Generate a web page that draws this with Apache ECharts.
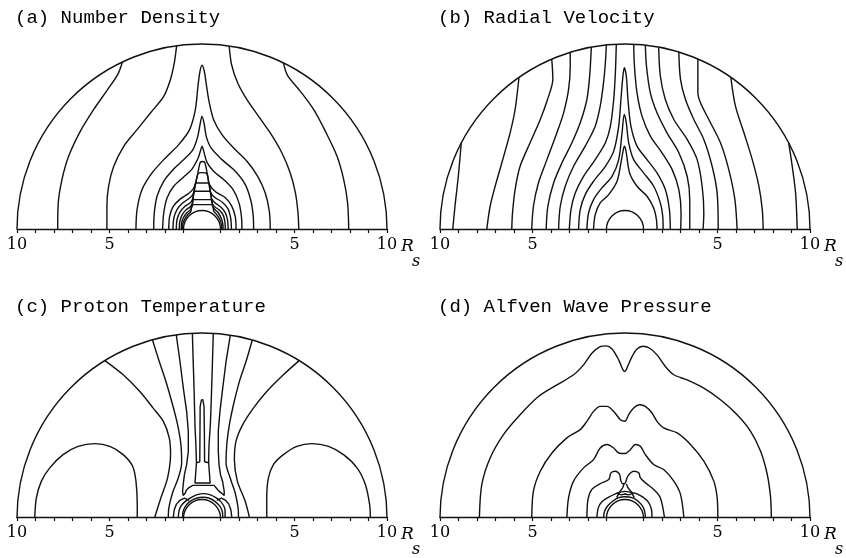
<!DOCTYPE html>
<html>
<head>
<meta charset="utf-8">
<script src="https://cdn.jsdelivr.net/npm/echarts@6.0.0/dist/echarts.min.js"></script>
<style>
html, body { margin: 0; padding: 0; background: #fff; }
#chart { width: 846px; height: 558px; }
</style>
</head>
<body>
<div id="chart"></div>
<script>
// panel titles and axis ticks (units of solar radius)
var titles = ['(a) Number Density', '(b) Radial Velocity', '(c) Proton Temperature', '(d) Alfven Wave Pressure'];
var tickValues = [-10, -9, -8, -7, -6, -5, -4, -3, -2, -1, 1, 2, 3, 4, 5, 6, 7, 8, 9, 10];
var labelValues = [-10, -5, 5, 10];

// (a) number density contours, [x, y] in R_s
var densityLines = [
	[[-7.80,0],[-7.77,1.41],[-7.57,2.67],[-7.21,3.93],[-6.58,5.28],[-5.86,6.45],[-5.17,7.44],[-4.56,8.34],[-4.30,9.03]],
	[[7.93,0],[7.87,1.41],[7.66,2.67],[7.30,3.93],[6.67,5.28],[6.04,6.45],[5.32,7.44],[4.63,8.29],[4.40,8.98]],
	[[-5.14,0],[-5.14,1.23],[-5.05,2.31],[-4.77,3.39],[-4.23,4.47],[-3.51,5.37],[-2.79,6.27],[-2.07,7.17],[-1.71,8.07],[-1.50,8.97],[-1.37,9.91]],
	[[5.23,0],[5.19,0.86],[5.05,1.95],[4.77,3.03],[4.32,4.11],[3.69,5.19],[3.06,6.09],[2.43,6.99],[1.93,7.89],[1.60,8.88],[1.47,9.89]],
	[[-3.57,0],[-3.51,1.05],[-3.24,2.13],[-2.70,3.03],[-1.98,3.84],[-1.26,4.56],[-0.67,5.37],[-0.36,6.45],[-0.22,7.71],[-0.11,8.52],[0,8.85],[0.13,8.5],[0.25,7.7],[0.38,6.9],[0.63,5.91],[1.08,5.10],[1.71,4.38],[2.43,3.66],[3.01,2.85],[3.42,1.95],[3.64,0.95],[3.69,0]],
	[[-2.61,0],[-2.58,0.86],[-2.43,1.77],[-2.07,2.58],[-1.53,3.24],[-0.95,3.78],[-0.49,4.29],[-0.23,5.01],[-0.09,5.73],[0,6.09],[0.11,5.73],[0.23,5.01],[0.49,4.38],[1.08,3.75],[1.80,3.12],[2.34,2.40],[2.65,1.50],[2.77,0.68],[2.79,0]],
	[[-2.13,0],[-2.07,0.86],[-1.89,1.68],[-1.53,2.31],[-0.99,2.81],[-0.54,3.24],[-0.23,3.78],[-0.09,4.20],[0,4.47],[0.11,4.14],[0.27,3.60],[0.63,3.12],[1.17,2.67],[1.68,2.13],[2.00,1.41],[2.13,0.68],[2.16,0]],
	[[-1.8,0],[-1.75,0.68],[-1.57,1.2],[-1.2,1.6],[-0.75,1.9],[-0.45,2.2],[-0.25,2.9],[-0.1,3.6],[0.02,3.65],[0.15,3.6],[0.3,2.9],[0.4,2.4],[0.75,2.0],[1.25,1.7],[1.6,1.25],[1.8,0.65],[1.84,0]],
	[[-1.57,0],[-1.52,0.6],[-1.35,1.05],[-1.05,1.4],[-0.7,1.65],[-0.5,1.85],[-0.35,2.4],[-0.21,3.0],[0,3.05],[0.26,3.0],[0.38,2.4],[0.48,1.95],[0.7,1.7],[1.1,1.45],[1.4,1.1],[1.55,0.6],[1.59,0]],
	[[-1.39,0],[-1.35,0.5],[-1.2,0.9],[-0.95,1.2],[-0.65,1.4],[-0.52,1.6],[-0.42,2.0],[-0.31,2.49],[0.35,2.49],[0.45,2.0],[0.52,1.65],[0.7,1.42],[1.0,1.2],[1.25,0.9],[1.38,0.5],[1.41,0]],
	[[-1.23,0],[-1.2,0.4],[-1.08,0.75],[-0.88,1.02],[-0.62,1.22],[-0.5,1.45],[-0.39,2.04],[0.43,2.04],[0.52,1.5],[0.62,1.25],[0.9,1.05],[1.12,0.8],[1.23,0.45],[1.26,0]],
	[[-1.12,0],[-1.1,0.35],[-1.0,0.62],[-0.82,0.88],[-0.62,1.05],[-0.52,1.25],[-0.48,1.59],[0.52,1.59],[0.57,1.25],[0.68,1.07],[0.9,0.85],[1.05,0.55],[1.13,0.25],[1.14,0]],
	[[-1.05,0],[-1.03,0.3],[-0.93,0.55],[-0.75,0.8],[-0.6,0.95],[-0.55,1.32],[0.57,1.32],[0.63,0.97],[0.8,0.78],[0.97,0.5],[1.06,0.2],[1.07,0]]
];

// (b) radial velocity contours
var velocityLines = [
	[[-9.31,0],[-9.19,1.23],[-9.01,2.85],[-8.85,4.66]],
	[[-7.47,0],[-7.29,1.23],[-7.02,2.31],[-6.66,3.57],[-6.21,5.20],[-5.94,6.46],[-5.73,8.20]],
	[[-6.12,0],[-6.08,0.87],[-5.94,2.13],[-5.67,3.39],[-5.13,4.66],[-4.58,5.92],[-4.19,7.00],[-3.90,8.09],[-3.96,9.18]],
	[[-5.04,0],[-4.95,1.23],[-4.68,2.49],[-4.22,3.75],[-3.68,5.20],[-3.32,6.28],[-3.05,7.55],[-2.96,8.81],[-2.96,9.55]],
	[[-4.26,0],[-4.17,1.23],[-3.86,2.49],[-3.41,3.57],[-2.87,4.66],[-2.42,5.74],[-2.06,7.00],[-1.91,8.27],[-1.82,9.83]],
	[[-3.59,0],[-3.50,1.23],[-3.23,2.31],[-2.78,3.39],[-2.15,4.48],[-1.61,5.56],[-1.34,6.64],[-1.16,7.91],[-1.06,8.99],[-1.01,9.95]],
	[[-3.01,0],[-2.92,1.05],[-2.69,1.95],[-2.24,2.85],[-1.61,3.75],[-1.06,4.66],[-0.79,5.56],[-0.61,7.00],[-0.52,8.45],[-0.47,9.99]],
	[[-2.51,0],[-2.42,1.05],[-2.15,1.86],[-1.70,2.58],[-1.06,3.39],[-0.61,4.21],[-0.34,5.56],[-0.22,7.00],[-0.13,8.09],[-0.04,8.72],[0.07,8.27],[0.16,7.00],[0.32,5.56],[0.65,4.48],[1.19,3.75],[1.73,3.03],[2.18,2.13],[2.40,1.05],[2.45,0]],
	[[-2.06,0],[-1.97,0.87],[-1.70,1.59],[-1.25,2.22],[-0.70,2.85],[-0.34,3.75],[-0.16,5.20],[-0.04,6.19],[0.07,5.74],[0.20,4.66],[0.47,3.75],[1.01,3.03],[1.55,2.31],[1.91,1.41],[2.04,0.69],[2.06,0]],
	[[-1.70,0],[-1.61,0.78],[-1.34,1.41],[-0.88,1.86],[-0.43,2.58],[-0.22,3.57],[-0.07,4.39],[-0.02,4.48],[0.07,4.12],[0.25,3.03],[0.65,2.31],[1.19,1.77],[1.55,1.14],[1.70,0.51],[1.73,0]],
	[[3.01,0],[3.03,0.87],[2.91,2.13],[2.55,3.21],[2.00,4.12],[1.37,5.02],[0.92,6.10],[0.65,7.36],[0.51,8.81],[0.47,9.99]],
	[[3.50,0],[3.50,1.59],[3.36,2.85],[2.91,4.12],[2.27,5.20],[1.73,6.28],[1.37,7.36],[1.16,8.81],[1.10,9.94]],
	[[4.22,0],[4.26,0.87],[4.17,2.31],[3.90,3.75],[3.36,4.84],[2.64,5.92],[2.18,7.00],[1.91,8.27],[1.82,9.83]],
	[[5.04,0],[4.98,1.95],[4.71,3.39],[4.26,4.84],[3.72,5.92],[3.27,7.00],[3.00,8.09],[2.91,9.56]],
	[[6.06,0],[5.94,1.59],[5.61,3.21],[5.16,4.66],[4.53,5.92],[4.08,6.82],[3.94,7.36],[3.94,9.19]],
	[[7.47,0],[7.42,1.05],[7.24,2.31],[6.88,3.75],[6.43,5.20],[5.97,6.64],[5.72,8.20]],
	[[9.31,0],[9.22,1.95],[9.04,3.39],[8.85,4.66]]
];

// (c) proton temperature contours
var temperatureLines = [
	[[-9.04,0],[-8.95,1.05],[-8.68,1.95],[-8.23,2.67],[-7.51,3.39],[-6.70,3.84],[-5.79,3.99],[-4.98,3.84],[-4.26,3.39],[-3.75,2.76],[-3.57,1.95],[-3.50,0.69],[-3.50,0]],
	[[3.50,0],[3.50,1.05],[3.59,2.13],[3.86,2.85],[4.40,3.39],[5.13,3.84],[5.94,3.99],[6.84,3.84],[7.65,3.39],[8.38,2.67],[8.83,1.77],[9.06,0.69],[9.10,0]],
	[[-5.25,8.5],[-4.26,7.73],[-3.36,6.82],[-2.64,5.92],[-2.09,5.20],[-1.77,4.30],[-1.70,3.39],[-1.86,2.13],[-2.22,1.05],[-2.55,0]],
	[[5.25,8.5],[4.40,7.73],[3.50,6.82],[2.78,5.92],[2.20,5.02],[1.84,4.12],[1.75,3.12],[1.91,1.95],[2.33,0.87],[2.56,0]],
	[[-2.68,9.63],[-2.31,8.45],[-1.95,7.36],[-1.59,6.10],[-1.32,5.02],[-1.14,3.94],[-1.10,2.94],[-1.28,2.13],[-1.59,1.32],[-1.79,0.51],[-1.82,0]],
	[[2.72,9.62],[2.38,8.45],[2.02,7.36],[1.70,6.10],[1.48,5.02],[1.34,3.94],[1.30,2.94],[1.52,2.13],[1.79,1.32],[1.95,0.51],[1.97,0]],
	[[-0.52,9.98],[-0.47,8.27],[-0.42,6.64],[-0.38,5.0],[-0.33,3.9],[-0.3,2.95]],
	[[0.36,2.95],[0.38,3.9],[0.45,5.0],[0.51,6.64],[0.56,8.27],[0.61,9.98]],
	[[-1.05,0],[-1.02,0.3],[-0.9,0.58],[-0.65,0.85],[-0.3,1.02],[0.05,1.07],[0.4,1.02],[0.7,0.85],[0.95,0.6],[1.1,0.3],[1.12,0]],
	[[-1.28,0],[-1.24,0.35],[-1.12,0.62],[-0.9,0.85],[-0.6,1.05],[-0.3,1.2],[0.1,1.27],[0.45,1.2],[0.75,1.05],[1.0,0.85],[1.18,0.6],[1.25,0.3],[1.25,0]]
];
var temperatureSharp = [
	[[-1.39,9.9],[-1.19,8.45],[-1.01,7.0],[-0.83,5.74],[-0.74,4.66],[-0.74,3.57],[-0.83,2.85],[-0.95,2.3],[-1.0,1.9],[-1.05,1.4],[-1.02,1.17],[-0.9,1.3],[-0.85,1.45],[-0.75,1.42],[-0.7,1.6],[-0.6,1.58],[-0.5,1.72],[0.65,1.72],[0.75,1.6],[0.85,1.62],[0.9,1.42],[1.0,1.45],[1.05,1.3],[1.2,1.17],[1.2,1.4],[1.12,1.9],[1.0,2.3],[0.92,2.85],[0.88,3.57],[0.88,4.66],[0.97,5.74],[1.12,7.0],[1.30,8.45],[1.53,9.88]],
	[[-0.03,6.37],[-0.1,6.0],[-0.11,4.5],[-0.12,3.0],[-0.3,2.95],[-0.38,1.85],[0.44,1.85],[0.36,2.95],[0.14,3.0],[0.13,4.5],[0.11,6.0],[0.05,6.37],[-0.03,6.37]],
	[[-1.55,0],[-1.5,0.4],[-1.38,0.7],[-1.2,0.9],[-0.95,1.02],[-0.7,0.9]],
	[[1.61,0],[1.56,0.4],[1.45,0.7],[1.28,0.9],[1.05,1.02],[0.8,0.9]]
];

// (d) Alfven wave pressure contours
var alfvenLines = [
	[[-7.87,0],[-7.74,1.77],[-7.29,3.21],[-6.57,4.48],[-5.67,5.56],[-4.68,6.55],[-3.68,7.18],[-2.78,7.73],[-2.24,8.27],[-1.79,8.90],[-1.34,9.26],[-1.01,9.30],[-0.70,9.13],[-0.34,8.54],[-0.11,8.00],[0,7.91],[0.14,8.18],[0.38,8.72],[0.65,9.13],[0.97,9.28],[1.34,9.17],[1.73,8.81],[2.18,8.18],[2.64,7.73],[3.36,7.45],[4.26,7.00],[5.16,6.37],[6.06,5.56],[6.79,4.66],[7.33,3.57],[7.69,2.31],[7.87,1.05],[7.91,0]],
	[[-5.04,0],[-4.95,1.41],[-4.58,2.49],[-3.95,3.48],[-3.14,4.30],[-2.42,4.75],[-2.06,5.20],[-1.70,5.74],[-1.34,6.01],[-0.97,6.01],[-0.61,5.74],[-0.25,5.29],[0,5.20],[0.20,5.56],[0.47,5.92],[0.79,6.10],[1.10,6.01],[1.46,5.65],[1.73,5.20],[2.09,4.84],[2.82,4.57],[3.54,3.94],[4.26,3.03],[4.80,1.95],[4.98,1.05],[5.02,0]],
	[[-3.14,0],[-3.05,1.05],[-2.78,1.95],[-2.24,2.67],[-1.70,3.12],[-1.34,3.75],[-0.97,3.94],[-0.61,3.75],[-0.34,3.48],[0,3.45],[0.29,3.66],[0.56,3.94],[0.83,3.84],[1.10,3.39],[1.55,2.85],[2.09,2.58],[2.64,1.95],[3.00,1.23],[3.18,0]],
	[[-2.06,0],[-2.00,0.96],[-1.79,1.50],[-1.34,1.81],[-0.88,2.04],[-0.76,2.40],[-0.52,2.49],[-0.29,2.31],[-0.22,1.95],[-0.11,1.81],[0.02,1.86],[0.11,2.13],[0.25,2.35],[0.47,2.49],[0.74,2.40],[0.83,2.13],[1.10,1.86],[1.55,1.50],[1.91,1.05],[2.13,0]],
	[[-1.52,0],[-1.44,0.51],[-1.25,0.83],[-0.88,1.08],[-0.52,1.26],[-0.25,1.35],[0,1.39],[0.29,1.35],[0.65,1.26],[1.01,1.05],[1.28,0.78],[1.43,0.42],[1.46,0]],
	[[-1.16,0],[-1.10,0.32],[-0.94,0.60],[-0.65,0.87],[-0.34,1.05],[0,1.10],[0.38,1.05],[0.69,0.87],[0.94,0.60],[1.06,0.32],[1.10,0]]
];
var alfvenSharp = [
	[[-0.45,1.05],[-0.3,1.35],[-0.12,1.6],[-0.05,1.8]],
	[[0.5,1.05],[0.35,1.35],[0.15,1.6],[0.08,1.8]],
	[[-0.45,1.3],[-0.2,1.2],[0,1.25],[0.2,1.2],[0.45,1.3]]
];

var panels = [
	{left: 17, top: 44}, {left: 440, top: 44},
	{left: 17, top: 333}, {left: 440, top: 333}
];
var PX = 18.5; // pixels per R_s
var INK = '#111';
var LW = 1.4;

var chart = echarts.init(document.getElementById('chart'), null, {renderer: 'canvas'});

var grids = [], xAxes = [], yAxes = [], polars = [], angleAxes = [], radiusAxes = [], titleList = [];

panels.forEach(function(p, i) {
	grids.push({left: p.left, top: p.top, width: 20 * PX, height: 10 * PX});
	xAxes.push({
		type: 'value', gridIndex: i, min: -10, max: 10,
		axisLine: {lineStyle: {color: INK, width: LW}},
		axisTick: {customValues: tickValues, length: 4, lineStyle: {color: INK, width: 1.2}},
		axisLabel: {
			customValues: labelValues, margin: 8,
			fontFamily: 'DejaVu Serif', fontSize: 16, color: '#000',
			formatter: function(v) { return String(Math.abs(v)); }
		},
		splitLine: {show: false},
		name: '{r|R}\n{s|s}', nameLocation: 'end', nameGap: 11,
		nameTextStyle: {
			align: 'left', verticalAlign: 'top', padding: [9, 0, 0, 0],
			rich: {
				r: {fontFamily: 'DejaVu Serif', fontStyle: 'italic', fontSize: 17, color: '#000', lineHeight: 17},
				s: {fontFamily: 'DejaVu Serif', fontStyle: 'italic', fontSize: 16, color: '#000', lineHeight: 14, padding: [0, 0, 0, 11]}
			}
		}
	});
	yAxes.push({type: 'value', gridIndex: i, min: 0, max: 10, show: false});
	var cx = p.left + 10 * PX, cy = p.top + 10 * PX;
	// outer boundary r = 10 and solar surface r = 1
	[10 * PX, PX].forEach(function(r) {
		var k = polars.length;
		polars.push({center: [cx, cy], radius: r});
		angleAxes.push({
			polarIndex: k, min: 0, max: 180, startAngle: 180, endAngle: 0,
			axisLine: {lineStyle: {color: INK, width: LW}},
			axisTick: {show: false}, axisLabel: {show: false}, splitLine: {show: false}
		});
		radiusAxes.push({polarIndex: k, min: 0, max: 10, show: false,
			axisLine: {show: false}, axisTick: {show: false}, axisLabel: {show: false}, splitLine: {show: false}});
	});
	titleList.push({
		text: titles[i], left: p.left - 7, top: p.top - 41,
		textStyle: {fontFamily: "'Courier New', 'Liberation Mono', Courier, monospace", fontSize: 19, fontWeight: 'normal', color: '#000'}
	});
});

var series = [];
function addLines(lines, idx, smooth) {
	lines.forEach(function(pts) {
		series.push({
			type: 'line', xAxisIndex: idx, yAxisIndex: idx, data: pts,
			smooth: smooth, symbol: 'none', silent: true, clip: false,
			lineStyle: {color: INK, width: LW}
		});
	});
}
addLines(densityLines, 0, 0.3);
addLines(velocityLines, 1, 0.3);
addLines(temperatureLines, 2, 0.3);
addLines(temperatureSharp, 2, false);
addLines(alfvenLines, 3, 0.3);
addLines(alfvenSharp, 3, false);

chart.setOption({
	animation: false,
	backgroundColor: '#fff',
	title: titleList,
	grid: grids,
	xAxis: xAxes,
	yAxis: yAxes,
	polar: polars,
	angleAxis: angleAxes,
	radiusAxis: radiusAxes,
	series: series
});
</script>
</body>
</html>
